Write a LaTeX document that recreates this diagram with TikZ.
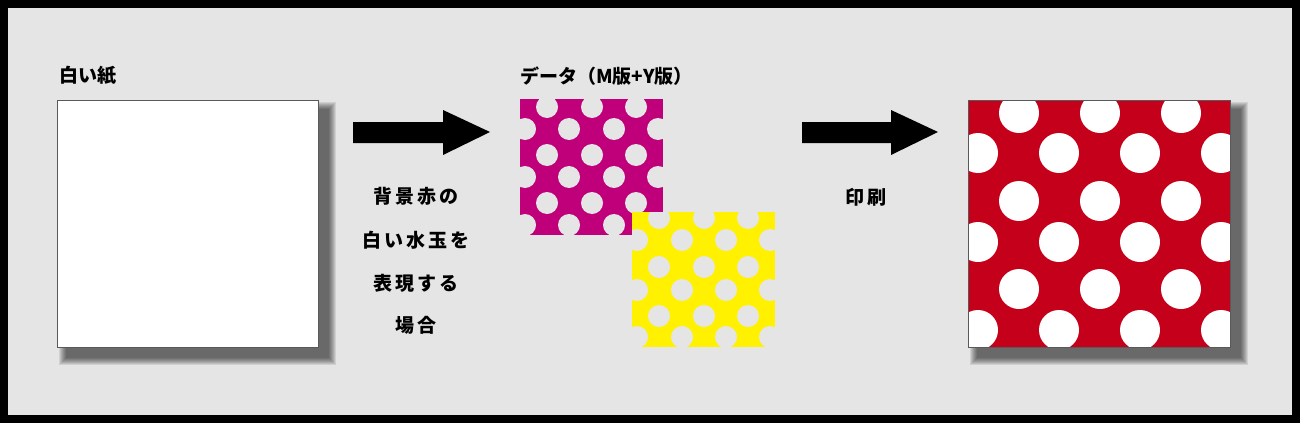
\documentclass[tikz,border=0pt]{standalone}
\usepackage{fontspec}
\newfontfamily\cjk{Noto Sans CJK JP}[BoldFont={* Black}]
\definecolor{bg}{HTML}{E5E5E5}
\definecolor{mag}{HTML}{C0007A}
\definecolor{yel}{HTML}{FFF100}
\definecolor{rd}{HTML}{C4001A}
\tikzset{
  lbl/.style={font=\cjk\bfseries\fontsize{19}{22}\selectfont, inner sep=0pt, text=black},
  bigarrow/.style={fill=black},
  paper/.style={draw=gray!70!black, line width=0.6pt}
}
\newcommand{\softshadow}[4]{%
  \foreach \k in {0,...,7} {
    \fill[black, opacity=0.09] ({#1+10-8+\k},{#2+10-8+\k}) rectangle ({#3+10+8-\k},{#4+10+8-\k});
  }}
\begin{document}
\begin{tikzpicture}[x=1pt,y=-1pt]
\useasboundingbox (0,0) rectangle (1300,423);
\fill[black] (0,0) rectangle (1300,423);
\fill[bg] (8,8) rectangle (1292,415);
% white paper
\softshadow{57}{100}{318}{347}
\node[paper, fill=white, minimum width=261pt, minimum height=247pt, inner sep=0pt, anchor=north west] (paper) at (57,100) {};
\node[lbl, anchor=west] (t1) at (59,76) {白い紙};
% arrow 1
\fill[bigarrow] (353,122) -- (443,122) -- (443,110) -- (490,132) -- (443,155) -- (443,143) -- (353,143) -- cycle;
\node[lbl] (l1) at (416,196) {背\,景\,赤\,の};
\node[lbl] (l2) at (416,240) {白\,い\,水\,玉\,を};
\node[lbl] (l3) at (416,283) {表\,現\,す\,る};
\node[lbl] (l4) at (416,325) {場\,合};
% data
\node[lbl, anchor=west] (t2) at (520,76) {データ（M版+Y版）};
\begin{scope}
\clip (520,99) rectangle (663,235);
\fill[mag] (520,99) rectangle (663,235);
\foreach \y in {107,155,203} \foreach \x in {547,592,636} \fill[bg] (\x,\y) circle (11);
\foreach \y in {129,177,225} \foreach \x in {525,569,614,658} \fill[bg] (\x,\y) circle (11);
\end{scope}
\begin{scope}
\clip (632,212) rectangle (775,347);
\fill[yel] (632,212) rectangle (775,347);
\foreach \y in {218,267,316} \foreach \x in {659,704,748} \fill[bg] (\x,\y) circle (11);
\foreach \y in {240,290,337} \foreach \x in {637,682,726,770} \fill[bg] (\x,\y) circle (11);
\end{scope}
% arrow 2
\fill[bigarrow] (802,122) -- (891,122) -- (891,110) -- (938,132) -- (891,155) -- (891,143) -- (802,143) -- cycle;
\node[lbl] (l5) at (866,197) {印\,刷};
% red print
\softshadow{968}{100}{1230}{347}
\node[paper, fill=rd, minimum width=262pt, minimum height=247pt, inner sep=0pt, anchor=north west] (print) at (968,100) {};
\begin{scope}
\clip (968,100) rectangle (1230,347);
\foreach \y in {113,201,289} \foreach \x in {1019,1100,1181} \fill[white] (\x,\y) circle (20);
\foreach \y in {153,242,330} \foreach \x in {978,1059,1140,1221} \fill[white] (\x,\y) circle (20);
\end{scope}
\draw[gray!70!black, line width=0.6pt] (print.north west) rectangle (print.south east);
\end{tikzpicture}
\end{document}
